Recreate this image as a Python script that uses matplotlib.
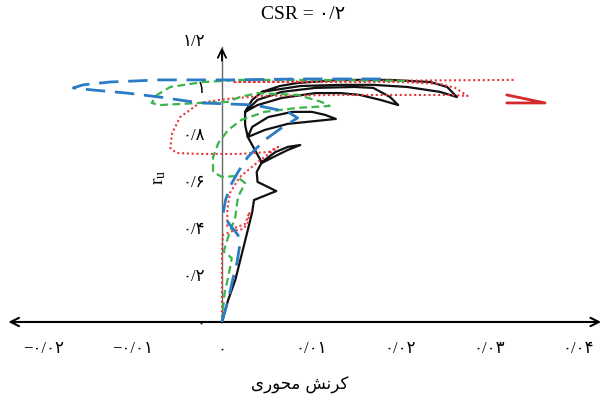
import matplotlib
matplotlib.use("Agg")
import matplotlib.pyplot as plt

plt.rcParams['font.family'] = ['Liberation Serif', 'DejaVu Sans']
plt.rcParams['mathtext.fontset'] = 'custom'
plt.rcParams['mathtext.rm'] = 'Liberation Serif'

# axial strain / pore pressure ratio paths for the four tests
black_x = [0, 0.0007, 0.0015, 0.0022, 0.0029, 0.0034, 0.0036, 0.0061, 0.0040, 0.0039,
           0.0045, 0.0060, 0.0074, 0.0088, 0.0074, 0.0060, 0.0045, 0.0037, 0.0029, 0.0034,
           0.0052, 0.0079, 0.0101, 0.0116, 0.0128, 0.0105, 0.0074, 0.0048, 0.0029, 0.0026,
           0.0026, 0.0040, 0.0067, 0.0105, 0.0149, 0.0170, 0.0189, 0.0198, 0.0178, 0.0155,
           0.0133, 0.0105, 0.0067, 0.0040, 0.0026, 0.0034, 0.0045, 0.0065, 0.0085, 0.0133,
           0.0189, 0.0234, 0.0253, 0.0264, 0.0245, 0.0208, 0.0170, 0.0133, 0.0088, 0.0045]
black_y = [0, 0.094, 0.179, 0.285, 0.391, 0.468, 0.519, 0.557, 0.596, 0.638,
           0.681, 0.723, 0.745, 0.753, 0.732, 0.706, 0.677, 0.732, 0.787, 0.830,
           0.872, 0.894, 0.894, 0.881, 0.864, 0.855, 0.843, 0.817, 0.787, 0.838,
           0.894, 0.945, 0.979, 0.996, 1.000, 0.996, 0.957, 0.923, 0.945, 0.966,
           0.974, 0.974, 0.953, 0.923, 0.894, 0.945, 0.979, 1.004, 1.017, 1.030,
           1.030, 1.021, 1.000, 0.957, 0.979, 1.000, 1.009, 1.009, 1.004, 0.979]

blue_x = [0, 0.0007, 0.0012, 0.0017, 0.0020, 0.0018, 0.0009, 0.0001, 0.0004, 0.0010,
          0.0018, 0.0029, 0.0048, 0.0067, 0.0085, 0.0074, 0.0037, 0.0006, -0.0025, -0.0070,
          -0.0107, -0.0145, -0.0167, -0.0156, -0.0126, -0.0070, 0.0006, 0.0088, 0.0183]
blue_y = [0, 0.094, 0.179, 0.255, 0.328, 0.370, 0.413, 0.455, 0.519, 0.583,
          0.638, 0.702, 0.774, 0.826, 0.868, 0.894, 0.923, 0.928, 0.932, 0.957,
          0.974, 0.987, 0.996, 1.009, 1.021, 1.030, 1.030, 1.034, 1.034]

green_x = [0, 0.0001, 0.0003, 0.0007, 0.0011, 0.0002, 0.0007, 0.0015, 0.0018, 0.0026,
           0.0016, 0, -0.0010, -0.0010, -0.0004, 0.0007, 0.0022, 0.0048, 0.0085, 0.0121,
           0.0112, 0.0085, 0.0040, 0.0020, 0.0006, -0.0025, -0.0070, -0.0079, -0.0073, -0.0058,
           -0.0021, 0.0020, 0.0110, 0.0208]
green_y = [0, 0.051, 0.123, 0.191, 0.272, 0.300, 0.362, 0.447, 0.532, 0.591,
           0.621, 0.617, 0.638, 0.702, 0.762, 0.817, 0.860, 0.894, 0.911, 0.919,
           0.936, 0.966, 0.974, 0.957, 0.936, 0.932, 0.923, 0.932, 0.966, 1.000,
           1.021, 1.030, 1.030, 1.026]

red_x = [0, 0, 0, 0.0001, 0.0012, 0.0024, 0.0029, 0.0031, 0.0026, 0.0014,
         0.0006, 0.0006, 0.0009, 0.0020, 0.0043, 0.0063, 0.0052, 0.0020, -0.0025, -0.0051,
         -0.0058, -0.0056, -0.0047, -0.0025, 0.0006, 0.0045, 0.0133, 0.0256, 0.0276, 0.0262,
         0.0245, 0.0200, 0.0088, 0.0012, 0.0165, 0.0329]
red_y = [0, 0.136, 0.285, 0.370, 0.387, 0.396, 0.421, 0.468, 0.417, 0.400,
         0.408, 0.477, 0.549, 0.617, 0.689, 0.745, 0.723, 0.715, 0.715, 0.719,
         0.740, 0.804, 0.872, 0.932, 0.949, 0.962, 0.966, 0.966, 0.962, 0.996,
         1.013, 1.021, 1.021, 1.021, 1.026, 1.030]

# short solid red stroke at the far right
tail_x = [0.0320, 0.0363, 0.0320]
tail_y = [0.966, 0.932, 0.932]

x_ticks = [-0.02, -0.01, 0, 0.01, 0.02, 0.03, 0.04]
x_labels = ["\u2212\u06f0/\u06f0\u06f2", "\u2212\u06f0/\u06f0\u06f1", "\u06f0",
            "\u06f0/\u06f0\u06f1", "\u06f0/\u06f0\u06f2", "\u06f0/\u06f0\u06f3", "\u06f0/\u06f0\u06f4"]
y_ticks = [0, 0.2, 0.4, 0.6, 0.8, 1.0, 1.2]
y_labels = ["\u06f0", "\u06f0/\u06f2", "\u06f0/\u06f4", "\u06f0/\u06f6", "\u06f0/\u06f8",
            "\u06f1", "\u06f1/\u06f2"]

fig = plt.figure(figsize=(6.02, 4.04), dpi=100)
ax = fig.add_axes([0, 0, 1, 1])
ax.set_xlim(-0.02494, 0.0427)
ax.set_ylim(-0.349, 1.370)

ax.plot(black_x, black_y, color='#111111', lw=1.6, solid_joinstyle='round', zorder=3)
ax.plot(red_x, red_y, color='#e8383d', lw=1.5, linestyle=(0, (1, 1.3)), zorder=4)
ax.plot(green_x, green_y, color='#3bb44a', lw=1.6, linestyle=(0, (3.5, 2)), zorder=5)
ax.plot(blue_x, blue_y, color='#2b7cc4', lw=2.0, linestyle=(0, (7, 3.5)), zorder=6)
ax.plot(tail_x, tail_y, color='#d42a2a', lw=2.0, solid_capstyle='round', zorder=4)

# axes through the origin with arrow heads
for side in ['top', 'right']:
    ax.spines[side].set_visible(False)
ax.spines['left'].set_position(('data', 0))
ax.spines['bottom'].set_position(('data', 0))
ax.spines['left'].set_bounds(0, 1.17)
ax.spines['left'].set_color('#666666')
ax.spines['left'].set_linewidth(1.0)
ax.spines['bottom'].set_bounds(-0.0235, 0.0422)
ax.spines['bottom'].set_linewidth(1.4)
ax.spines['left'].set_zorder(2)

ax.annotate('', xy=(0, 1.18), xytext=(0, 1.10),
            arrowprops=dict(arrowstyle='->,head_length=0.6,head_width=0.3', lw=1.3, color='black'))
ax.annotate('', xy=(-0.0240, 0), xytext=(0.0426, 0),
            arrowprops=dict(arrowstyle='<->,head_length=0.6,head_width=0.3', lw=1.5, color='black',
                            shrinkA=0, shrinkB=0))

ax.set_xticks(x_ticks, labels=x_labels)
ax.set_yticks(y_ticks, labels=y_labels)
ax.tick_params(axis='x', length=0, pad=14, labelsize=12)
ax.tick_params(axis='y', length=0, pad=12, labelsize=12)

fig.text(0.503, 0.963, "CSR = \u06f0/\u06f2", ha='center', va='center', fontsize=14)
fig.text(160 / 602, 1 - 177 / 404, r'$\mathregular{r_u}$', rotation=90,
         ha='center', va='center', fontsize=14)
# Persian axis title, written with presentation forms in display order
fig.text(300 / 602, 1 - 385 / 404, "\ufbfc\ufead\ufeee\ufea4\ufee3 \ufeb6\ufee7\ufeae\ufb90",
         ha='center', va='center', fontsize=12, family=['DejaVu Sans'])

fig.savefig("out.png", dpi=100)
